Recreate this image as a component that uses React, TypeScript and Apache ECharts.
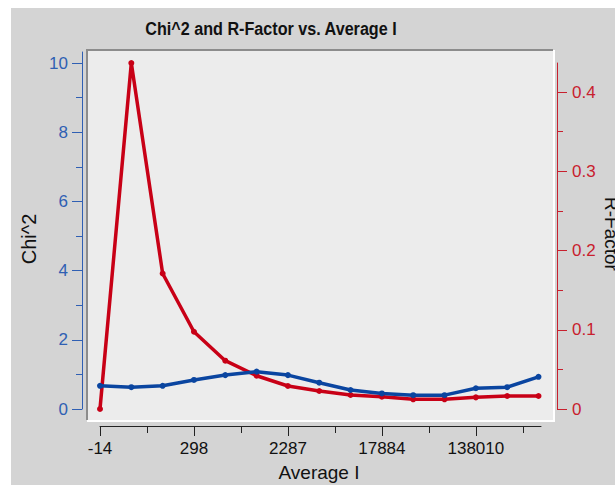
import React, { useEffect, useRef } from "react";
import * as echarts from "echarts";

const avgI = [-14, 38, 122, 298, 610, 1190, 2287, 4450, 8800, 17884, 35100, 69800, 138010, 274000, 548000];
const chi2 = [0.67, 0.63, 0.67, 0.84, 0.98, 1.08, 0.98, 0.76, 0.55, 0.45, 0.4, 0.4, 0.6, 0.63, 0.93];
const rFactor = [0.0, 0.4367, 0.171, 0.0975, 0.061, 0.042, 0.029, 0.0227, 0.0177, 0.0155, 0.0122, 0.0122, 0.0147, 0.0164, 0.0164];

const xMajorTicks = [0, 3, 6, 9, 12];
const xMinorTicks = [1.5, 4.5, 7.5, 10.5, 13.5];
const chiMajorTicks = [0, 2, 4, 6, 8, 10];
const chiMinorTicks = [1, 3, 5, 7, 9];
const rMajorTicks = [0, 0.1, 0.2, 0.3, 0.4];
const rMinorTicks = [0.05, 0.15, 0.25, 0.35];

const FONT = "'Liberation Sans', Arial, sans-serif";
const BLUE_AX = "#2f5fb3";
const RED_AX = "#c8202e";
const BLUE = "#0a45a0";
const RED = "#c80016";

export default function App() {
  const ref = useRef<HTMLDivElement>(null);
  useEffect(() => {
    if (!ref.current) return;
    const chart = echarts.init(ref.current, undefined, { renderer: "svg" });
    const grid0 = { left: 100, right: 74, top: 52, bottom: 76 };
    const grid1 = { left: 100, right: 74, top: 63, bottom: 76 };
    const xBase = (gridIndex: number) => ({
      type: "value",
      gridIndex,
      min: 0,
      max: 14.08,
      position: "bottom",
      offset: 17,
      splitLine: { show: false },
    });
    chart.setOption({
      animation: false,
      backgroundColor: "#ffffff",
      graphic: [
        { type: "rect", z: -10, shape: { x: 11, y: 8, width: 604, height: 477 }, style: { fill: "#d4d4d4" } },
        { type: "rect", z: -9, shape: { x: 87, y: 50, width: 466, height: 370 }, style: { fill: "#ececec" } },
        { type: "line", z: -8, shape: { x1: 86, y1: 50, x2: 553, y2: 50 }, style: { stroke: "#8c8c8c", lineWidth: 2 } },
        { type: "line", z: -8, shape: { x1: 87, y1: 49, x2: 87, y2: 420 }, style: { stroke: "#8c8c8c", lineWidth: 2 } },
        { type: "line", z: -8, shape: { x1: 87, y1: 421, x2: 555, y2: 421 }, style: { stroke: "#ffffff", lineWidth: 2 } },
        { type: "line", z: -8, shape: { x1: 554, y1: 50, x2: 554, y2: 421 }, style: { stroke: "#ffffff", lineWidth: 2 } },
        {
          type: "text",
          x: 271,
          y: 29,
          scaleX: 0.85,
          style: { text: "Chi^2 and R-Factor vs. Average I", font: `bold 19px ${FONT}`, fill: "#111", align: "center", verticalAlign: "middle" },
        },
        {
          type: "text",
          x: 319,
          y: 472,
          style: { text: "Average I", font: `19px ${FONT}`, fill: "#111", align: "center", verticalAlign: "middle" },
        },
        {
          type: "text",
          x: 29,
          y: 239,
          rotation: Math.PI / 2,
          style: { text: "Chi^2", font: `20px ${FONT}`, fill: "#111", align: "center", verticalAlign: "middle" },
        },
        {
          type: "text",
          x: 611,
          y: 234,
          rotation: -Math.PI / 2,
          style: { text: "R-Factor", font: `19px ${FONT}`, fill: "#111", align: "center", verticalAlign: "middle" },
        },
      ],
      grid: [grid0, grid1],
      xAxis: [
        {
          ...xBase(0),
          axisLine: { show: true, onZero: false, lineStyle: { color: "#222", width: 1 } },
          axisTick: { show: true, length: 10, customValues: xMajorTicks, lineStyle: { color: "#222" } },
          axisLabel: {
            show: true,
            margin: 14,
            customValues: xMajorTicks,
            color: "#111",
            fontFamily: FONT,
            fontSize: 17,
            formatter: (v: number) => String(avgI[Math.round(v)]),
          },
        },
        {
          ...xBase(1),
          axisLine: { show: false, onZero: false },
          axisTick: { show: true, length: 7, customValues: xMinorTicks, lineStyle: { color: "#222" } },
          axisLabel: { show: false },
        },
      ],
      yAxis: [
        {
          type: "value",
          gridIndex: 0,
          min: 0,
          max: 10.32,
          position: "left",
          offset: 18,
          splitLine: { show: false },
          axisLine: { show: true, onZero: false, lineStyle: { color: BLUE_AX } },
          axisTick: { show: true, length: 10, customValues: chiMajorTicks, lineStyle: { color: BLUE_AX } },
          axisLabel: { show: true, margin: 14, customValues: chiMajorTicks, color: BLUE_AX, fontFamily: FONT, fontSize: 17 },
        },
        {
          type: "value",
          gridIndex: 0,
          min: 0,
          max: 10.32,
          position: "left",
          offset: 18,
          splitLine: { show: false },
          axisLine: { show: false, onZero: false },
          axisTick: { show: true, length: 6, customValues: chiMinorTicks, lineStyle: { color: BLUE_AX } },
          axisLabel: { show: false },
        },
        {
          type: "value",
          gridIndex: 1,
          min: 0,
          max: 0.4367,
          position: "right",
          offset: 16,
          splitLine: { show: false },
          axisLine: { show: true, onZero: false, lineStyle: { color: RED_AX } },
          axisTick: { show: true, length: 10, customValues: rMajorTicks, lineStyle: { color: RED_AX } },
          axisLabel: { show: true, margin: 15, customValues: rMajorTicks, color: RED_AX, fontFamily: FONT, fontSize: 17 },
        },
        {
          type: "value",
          gridIndex: 1,
          min: 0,
          max: 0.4367,
          position: "right",
          offset: 16,
          splitLine: { show: false },
          axisLine: { show: false, onZero: false },
          axisTick: { show: true, length: 6, customValues: rMinorTicks, lineStyle: { color: RED_AX } },
          axisLabel: { show: false },
        },
      ],
      series: [
        {
          name: "R-Factor",
          type: "line",
          xAxisIndex: 1,
          yAxisIndex: 2,
          data: rFactor.map((v, i) => [i, v]),
          symbol: "circle",
          symbolSize: 6,
          clip: false,
          itemStyle: { color: RED },
          lineStyle: { color: RED, width: 3.5 },
        },
        {
          name: "Chi^2",
          type: "line",
          xAxisIndex: 0,
          yAxisIndex: 0,
          data: chi2.map((v, i) => [i, v]),
          symbol: "circle",
          symbolSize: 6,
          clip: false,
          itemStyle: { color: BLUE },
          lineStyle: { color: BLUE, width: 3.5 },
        },
      ],
    });
    return () => chart.dispose();
  }, []);
  return <div ref={ref} style={{ position: "fixed", left: 0, top: 0, width: 615, height: 485 }} />;
}
